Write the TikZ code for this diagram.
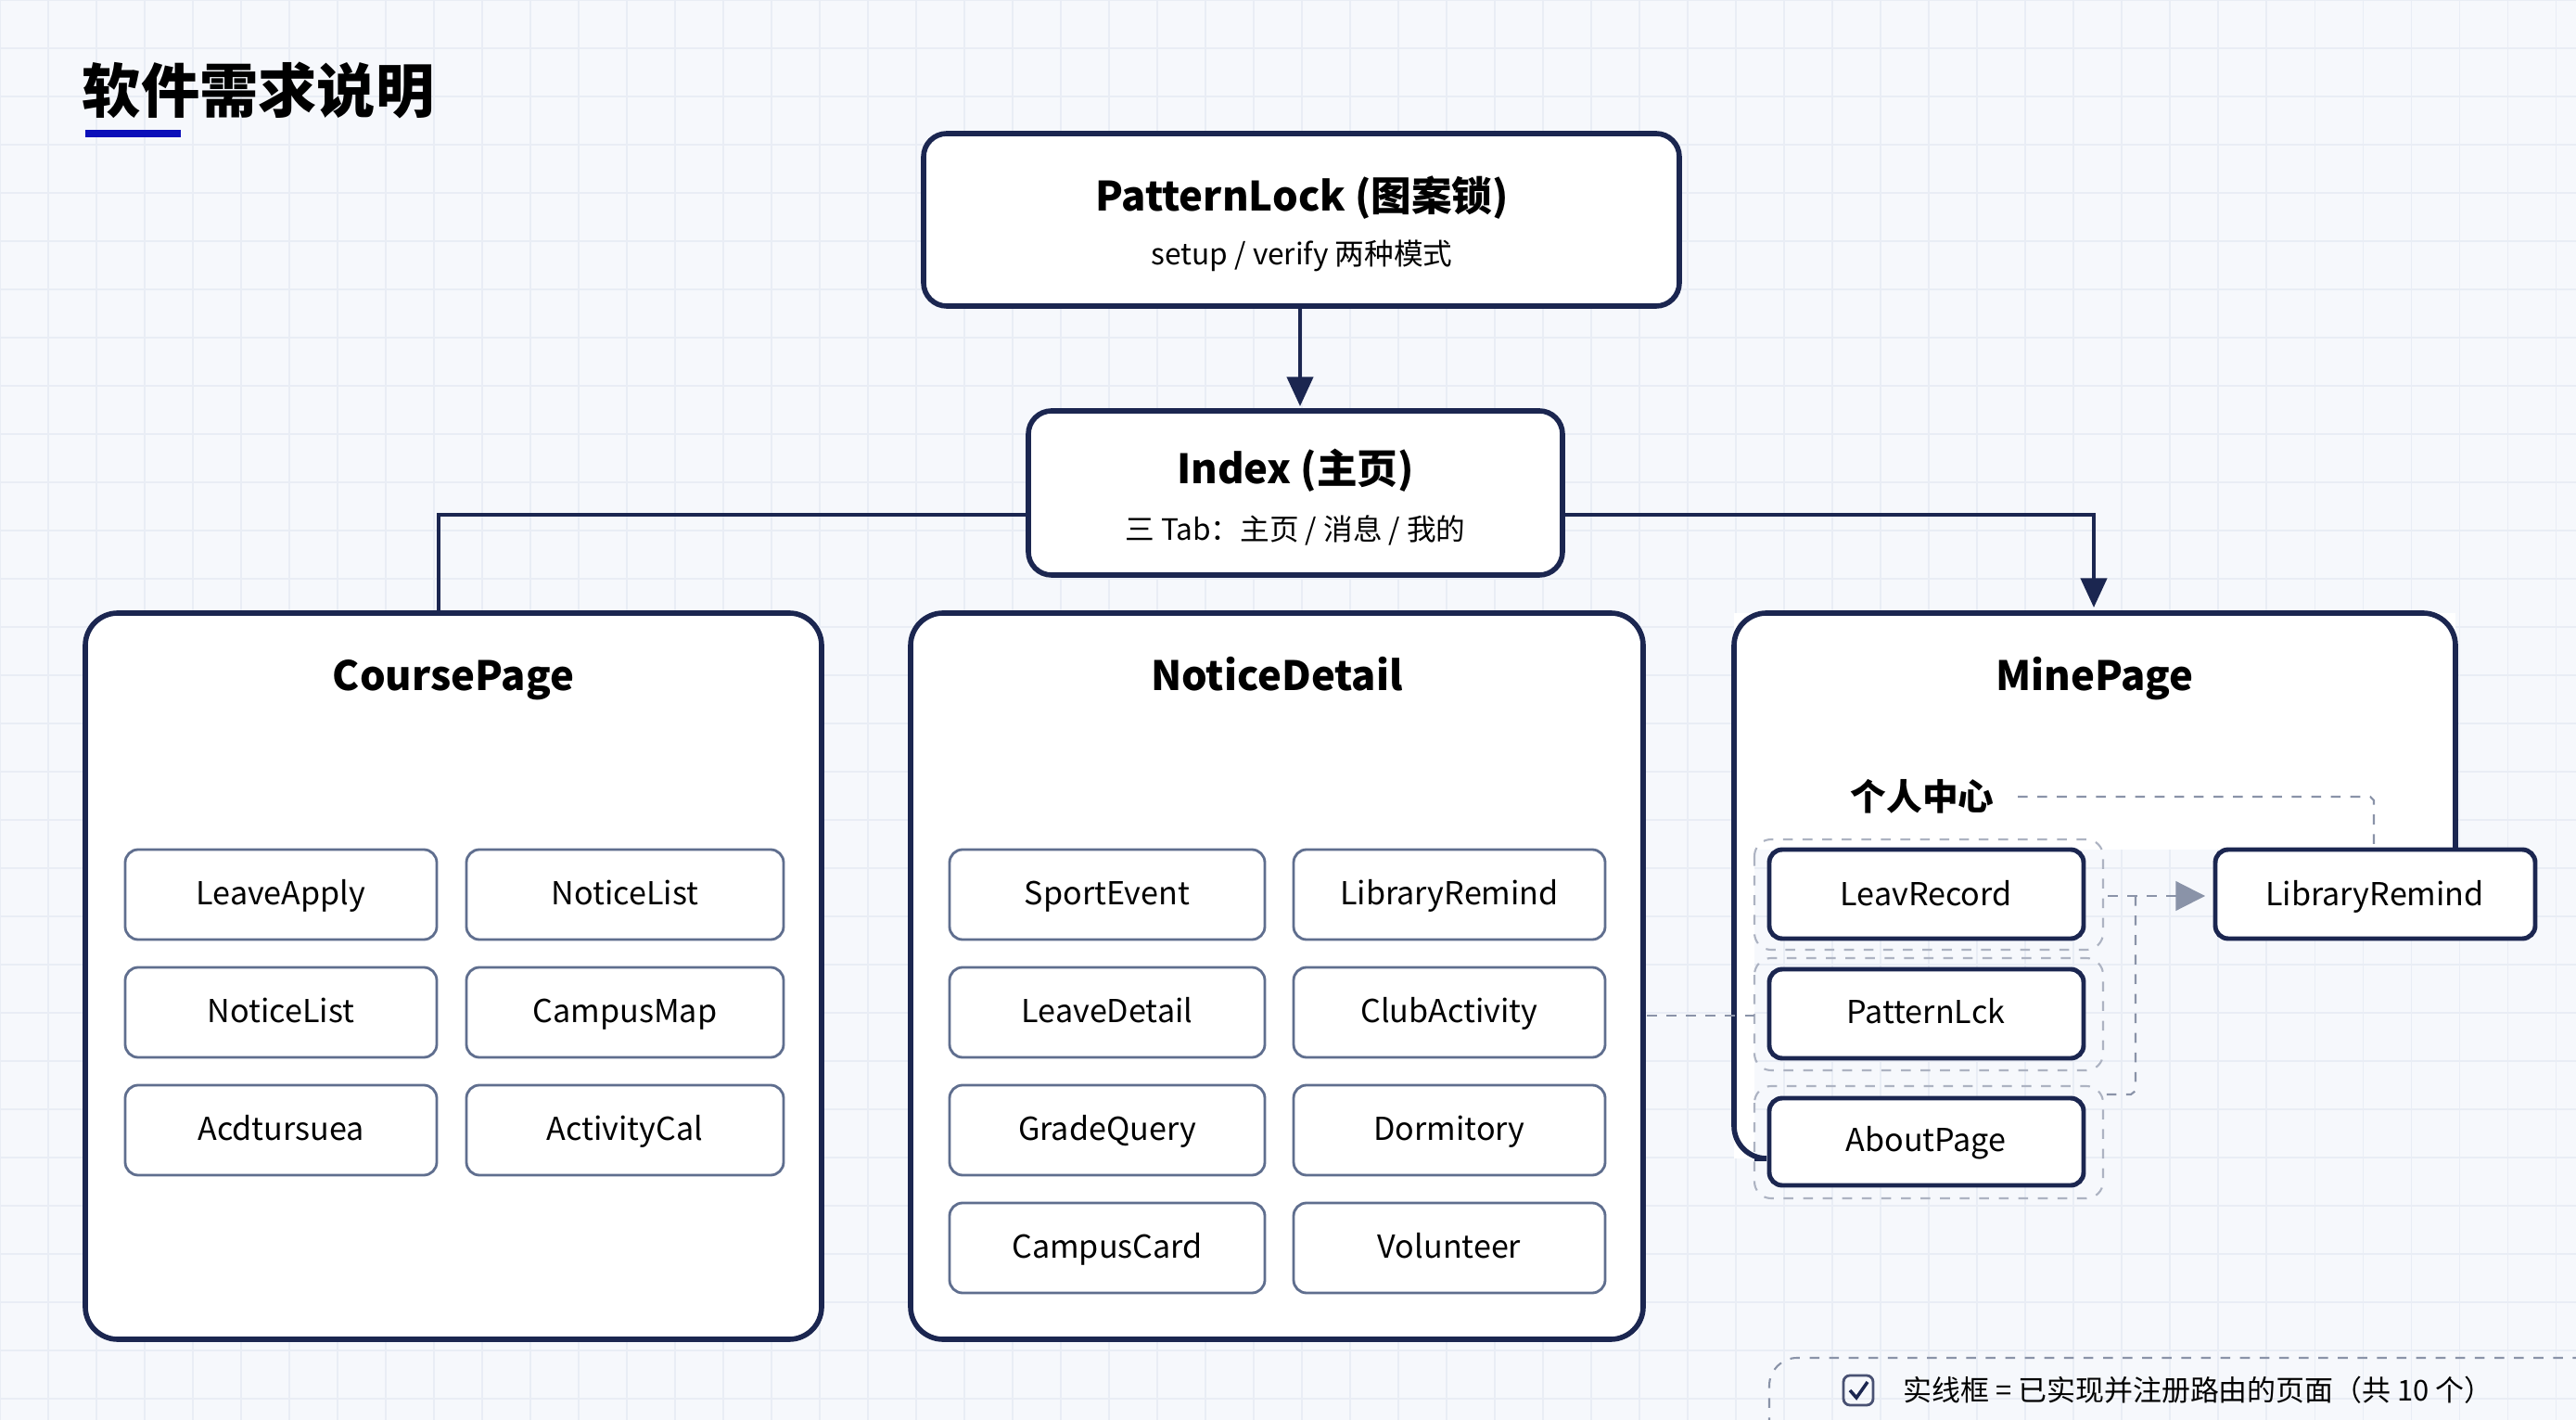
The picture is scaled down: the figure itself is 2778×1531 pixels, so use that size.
\documentclass[tikz,border=0pt]{standalone}
\usepackage{fontspec}
\setmainfont{Noto Sans CJK SC}
\usetikzlibrary{arrows.meta}
\definecolor{navy}{HTML}{1B2650}
\definecolor{soft}{HTML}{5F6E8E}
\definecolor{bg}{HTML}{F6F8FC}
\definecolor{gridc}{HTML}{E9EDF5}
\definecolor{dash}{HTML}{8A93A8}
\begin{document}
\begin{tikzpicture}[x=0.01cm,y=-0.01cm,
  big/.style={draw=navy,line width=1.6pt,fill=white,rounded corners=0.35cm},
  hdr/.style={draw=navy,line width=1.6pt,fill=white,rounded corners=0.25cm},
  sub/.style={draw=soft,line width=0.8pt,fill=white,rounded corners=0.14cm},
  mine/.style={draw=navy,line width=1.4pt,fill=white,rounded corners=0.14cm},
  outer/.style={draw=dash!70,dashed,line width=0.6pt,rounded corners=0.18cm},
  dsh/.style={draw=dash,dashed,line width=0.6pt},
  lbl/.style={font=\fontsize{9.7}{11}\selectfont,text height=1.6ex,text depth=0.45ex},
  ttl/.style={font=\bfseries\fontsize{12.4}{14}\selectfont,text height=1.6ex,text depth=0.45ex},
  conn/.style={draw=navy,line width=1.1pt}]
\useasboundingbox (0,0) rectangle (2778,1531);
\fill[bg] (0,0) rectangle (2778,1531);
\foreach \i in {0,52,...,2778} \draw[gridc,line width=0.3pt] (\i,0) -- (\i,1531);
\foreach \j in {0,52,...,1531} \draw[gridc,line width=0.3pt] (0,\j) -- (2778,\j);
% title
\node[anchor=west,font=\bfseries\fontsize{18}{20}\selectfont,inner sep=0] (title) at (88,97) {软件需求说明};
\fill[blue!60!navy] (92,140) rectangle (195,148);
% PatternLock
\path[hdr] (996,144) rectangle (1811,330);
\node[ttl] (pl) at (1404,217) {PatternLock (图案锁)};
\node[lbl,font=\fontsize{9}{11}\selectfont] (pls) at (1404,275) {setup / verify 两种模式};
\coordinate (plb) at (1402,330);
% Index
\path[hdr] (1109,443) rectangle (1685,620);
\node[ttl] (ix) at (1397,511) {Index (主页)};
\node[lbl,font=\fontsize{9}{11}\selectfont] (ixs) at (1397,572) {三 Tab：主页 / 消息 / 我的};
\coordinate (ixt) at (1402,438);
\coordinate (ixl) at (1109,555);
\coordinate (ixr) at (1685,555);
\draw[conn,-{Triangle[length=9pt,width=8pt]}] (plb) -- (ixt);
% big boxes
\path[big] (92,661) rectangle (886,1444);
\path[big] (982,661) rectangle (1772,1444);
\fill[white] (1870,661) rectangle (2648,916);
\fill[white] (1870,916) rectangle (1892,1249);
\draw[navy,line width=1.6pt,rounded corners=0.35cm] (1892,1249) -- (1870,1249) -- (1870,661) -- (2648,661) -- (2648,916);
\node[ttl] (cp) at (489,734) {CoursePage};
\node[ttl] (nd) at (1377,734) {NoticeDetail};
\node[ttl] (mp) at (2259,734) {MinePage};
\coordinate (cpt) at (473,661);
\coordinate (mpt) at (2258,655);
\draw[conn] (ixl) -| (cpt);
\draw[conn,-{Triangle[length=9pt,width=8pt]}] (ixr) -| (mpt);
% CoursePage subs
\foreach \t/\x/\y in {LeaveApply/0/0,NoticeList/1/0,NoticeList/0/1,CampusMap/1/1,Acdtursuea/0/2,ActivityCal/1/2}{
  \pgfmathsetmacro\xa{\x==0 ? 135 : 503}
  \pgfmathsetmacro\xb{\x==0 ? 471 : 845}
  \pgfmathsetmacro\ya{916+\y*127}
  \path[sub] (\xa,\ya) rectangle (\xb,\ya+97);
  \node[lbl] at ({(\xa+\xb)/2},\ya+49) {\t};
}
% NoticeDetail subs
\foreach \t/\x/\y in {SportEvent/0/0,LibraryRemind/1/0,LeaveDetail/0/1,ClubActivity/1/1,GradeQuery/0/2,Dormitory/1/2,CampusCard/0/3,Volunteer/1/3}{
  \pgfmathsetmacro\xa{\x==0 ? 1024 : 1395}
  \pgfmathsetmacro\xb{\x==0 ? 1364 : 1731}
  \pgfmathsetmacro\ya{916+\y*127}
  \path[sub] (\xa,\ya) rectangle (\xb,\ya+97);
  \node[lbl] at ({(\xa+\xb)/2},\ya+49) {\t};
}
\coordinate (ndr) at (1776,1095);
% Mine
\node[font=\bfseries\fontsize{11}{13}\selectfont] (gr) at (2073,859) {个人中心};
\path[outer] (1892,905) rectangle (2268,1024);
\path[outer] (1892,1033) rectangle (2268,1154);
\path[outer] (1892,1171) rectangle (2268,1292);
\path[mine] (1908,916) rectangle (2247,1012);
\node[lbl] (lr) at (2077,966) {LeavRecord};
\path[mine] (1908,1045) rectangle (2247,1141);
\node[lbl] (pk) at (2077,1093) {PatternLck};
\path[mine] (1908,1184) rectangle (2247,1278);
\node[lbl] (ab) at (2077,1231) {AboutPage};
\path[mine] (2389,916) rectangle (2734,1012);
\node[lbl] (lib) at (2561,966) {LibraryRemind};
\coordinate (pkl) at (1892,1095);
\draw[dsh] (ndr) -- (pkl);
\draw[dsh] (2176,859) -- (2556,859) -- (2560,863) -- (2560,916);
\draw[dsh,-{Triangle[length=9pt,width=9pt,fill=dash]}] (2273,966) -- (2378,966);
\draw[dsh] (2303,966) -- (2303,1176) -- (2298,1180) -- (2268,1180);
% legend
\draw[dsh,rounded corners=0.3cm] (1908,1560) -- (1908,1464) -- (2800,1464);
\node[draw=navy!80,line width=0.8pt,rounded corners=2pt,minimum size=0.32cm,inner sep=0] (cb) at (2004,1499) {};
\draw[navy,line width=1pt] (1995,1499) -- (2002,1507) -- (2014,1490);
\node[anchor=west,font=\fontsize{8.8}{10}\selectfont] (lg) at (2040,1499) {实线框 = 已实现并注册路由的页面（共 10 个）};
\end{tikzpicture}
\end{document}
